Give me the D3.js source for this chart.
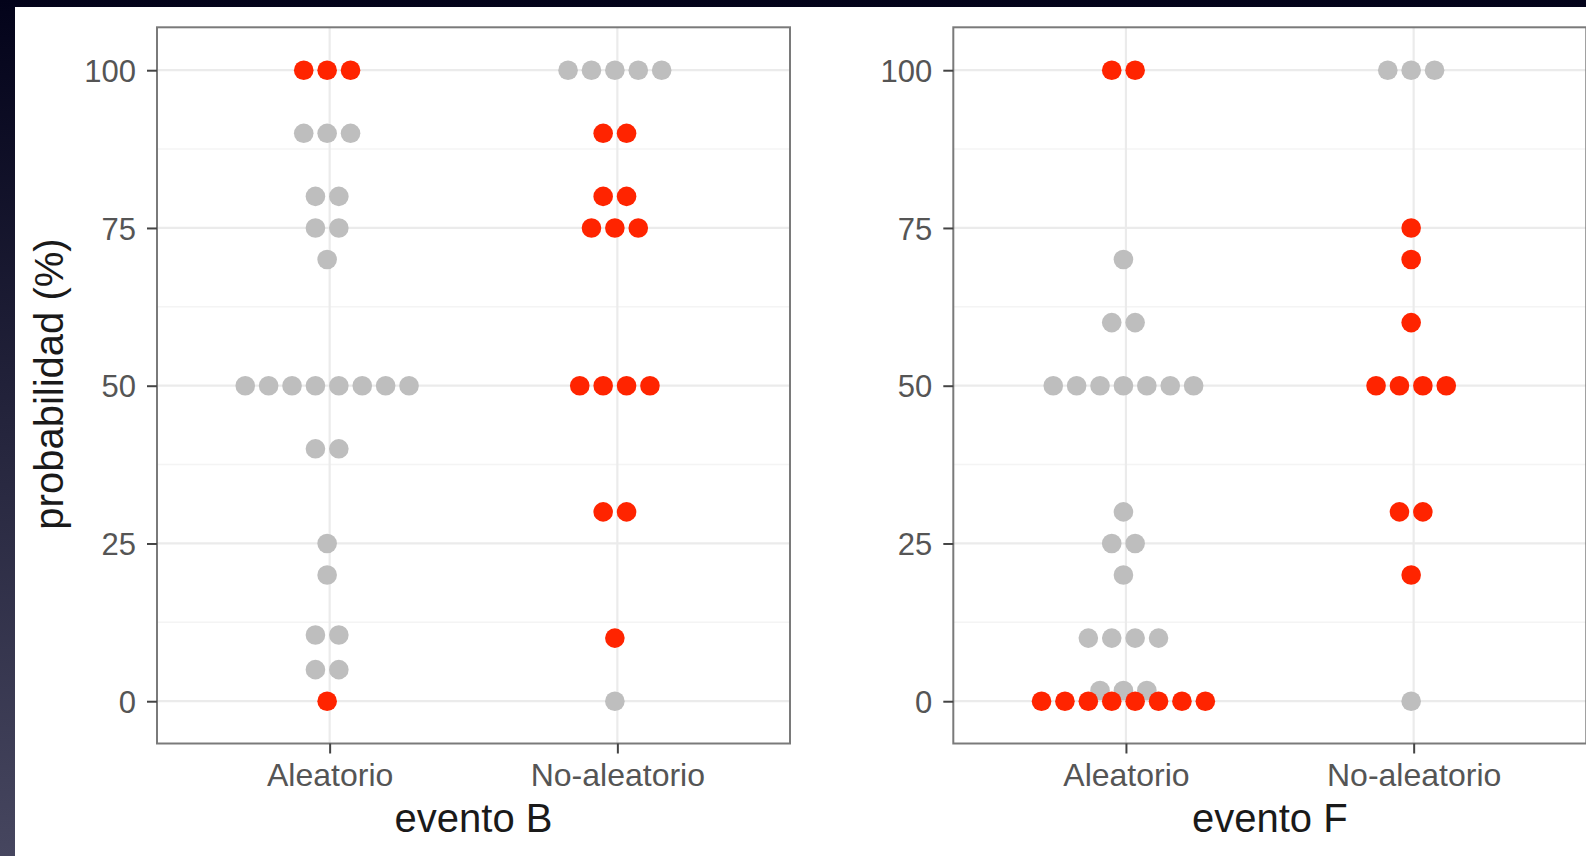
<!DOCTYPE html>
<html lang="es">
<head>
<meta charset="UTF-8">
<title>probabilidad por evento</title>
<script src="https://cdn.jsdelivr.net/npm/d3@7"></script>
<style>
  html, body { margin: 0; padding: 0; background: #05051a; }
  svg { display: block; font-family: "Liberation Sans", Arial, sans-serif; }
</style>
</head>
<body>
<svg id="chart"></svg>
<script>
const categories = ["Aleatorio", "No-aleatorio"];
const yTicks = [0, 25, 50, 75, 100];
const yMinorTicks = [12.5, 37.5, 62.5, 87.5];

// each stack: [categoria, valor, cantidad de puntos, grupo]
const eventoB = [
  ["Aleatorio", 100, 3, "rojo"],
  ["Aleatorio", 90, 3, "gris"],
  ["Aleatorio", 80, 2, "gris"],
  ["Aleatorio", 75, 2, "gris"],
  ["Aleatorio", 70, 1, "gris"],
  ["Aleatorio", 50, 8, "gris"],
  ["Aleatorio", 40, 2, "gris"],
  ["Aleatorio", 25, 1, "gris"],
  ["Aleatorio", 20, 1, "gris"],
  ["Aleatorio", 10.5, 2, "gris"],
  ["Aleatorio", 5, 2, "gris"],
  ["Aleatorio", 0, 1, "rojo"],
  ["No-aleatorio", 100, 5, "gris"],
  ["No-aleatorio", 90, 2, "rojo"],
  ["No-aleatorio", 80, 2, "rojo"],
  ["No-aleatorio", 75, 3, "rojo"],
  ["No-aleatorio", 50, 4, "rojo"],
  ["No-aleatorio", 30, 2, "rojo"],
  ["No-aleatorio", 10, 1, "rojo"],
  ["No-aleatorio", 0, 1, "gris"]
];

const eventoF = [
  ["Aleatorio", 100, 2, "rojo"],
  ["Aleatorio", 70, 1, "gris"],
  ["Aleatorio", 60, 2, "gris"],
  ["Aleatorio", 50, 7, "gris"],
  ["Aleatorio", 30, 1, "gris"],
  ["Aleatorio", 25, 2, "gris"],
  ["Aleatorio", 20, 1, "gris"],
  ["Aleatorio", 10, 4, "gris"],
  ["Aleatorio", 1.7, 3, "gris"],
  ["Aleatorio", 0, 8, "rojo"],
  ["No-aleatorio", 100, 3, "gris"],
  ["No-aleatorio", 75, 1, "rojo"],
  ["No-aleatorio", 70, 1, "rojo"],
  ["No-aleatorio", 60, 1, "rojo"],
  ["No-aleatorio", 50, 4, "rojo"],
  ["No-aleatorio", 30, 2, "rojo"],
  ["No-aleatorio", 20, 1, "rojo"],
  ["No-aleatorio", 0, 1, "gris"]
];

const colors = { rojo: "#ff2400", gris: "#bebebe" };

const W = 1586, H = 856;
const svg = d3.select("#chart").attr("width", W).attr("height", H);

// dark slide background + white plot area
const grad = svg.append("defs").append("linearGradient")
  .attr("id", "bg").attr("x1", 0).attr("y1", 0).attr("x2", 0).attr("y2", 1);
grad.append("stop").attr("offset", "0%").attr("stop-color", "#03031a");
grad.append("stop").attr("offset", "100%").attr("stop-color", "#46465f");
svg.append("rect").attr("width", W).attr("height", H).attr("fill", "url(#bg)");
svg.append("rect").attr("x", 15).attr("y", 7).attr("width", W - 15).attr("height", H - 7).attr("fill", "#fff");

const panels = [
  { title: "evento B", x0: 157, x1: 790, data: eventoB },
  { title: "evento F", x0: 953.3, x1: 1586.3, data: eventoF }
];

const panelTop = 27.3, panelBottom = 743.5;
const r = 9.8, step = 23.4, dotShift = -2.5;

const y = d3.scaleLinear().domain([-6.7, 106.8]).range([panelBottom, panelTop]);

panels.forEach(p => {
  const x = d3.scalePoint().domain(categories).range([p.x0, p.x1]).padding(0.6);
  const g = svg.append("g");

  // grid
  g.selectAll(".minor").data(yMinorTicks).join("line")
    .attr("x1", p.x0).attr("x2", p.x1)
    .attr("y1", d => y(d)).attr("y2", d => y(d))
    .attr("stroke", "#f4f4f4").attr("stroke-width", 1.5);
  g.selectAll(".major").data(yTicks).join("line")
    .attr("x1", p.x0).attr("x2", p.x1)
    .attr("y1", d => y(d)).attr("y2", d => y(d))
    .attr("stroke", "#ebebeb").attr("stroke-width", 2.2);
  g.selectAll(".vmajor").data(categories).join("line")
    .attr("x1", d => x(d)).attr("x2", d => x(d))
    .attr("y1", panelTop).attr("y2", panelBottom)
    .attr("stroke", "#ebebeb").attr("stroke-width", 2.2);

  // dots: grey first so red sits on top
  const dots = [];
  const ordered = p.data.filter(d => d[3] === "gris").concat(p.data.filter(d => d[3] === "rojo"));
  ordered.forEach(([cat, val, n, grp]) => {
    for (let i = 0; i < n; i++) {
      dots.push({ cx: x(cat) + dotShift + (i - (n - 1) / 2) * step, cy: y(val), fill: colors[grp] });
    }
  });
  g.selectAll("circle").data(dots).join("circle")
    .attr("cx", d => d.cx).attr("cy", d => d.cy).attr("r", r)
    .attr("fill", d => d.fill);

  // border
  g.append("rect")
    .attr("x", p.x0).attr("y", panelTop)
    .attr("width", p.x1 - p.x0).attr("height", panelBottom - panelTop)
    .attr("fill", "none").attr("stroke", "#7a7a7a").attr("stroke-width", 2);

  // axes
  const ay = g.append("g").attr("transform", `translate(${p.x0},0)`)
    .call(d3.axisLeft(y).tickValues(yTicks).tickSize(10).tickPadding(11));
  ay.select(".domain").remove();
  ay.selectAll("line").attr("stroke", "#444").attr("stroke-width", 2);
  ay.selectAll("text").attr("fill", "#555").attr("font-size", 31).attr("dy", "0.36em")
    .style("font-family", "'Liberation Sans', Arial, sans-serif");

  const ax = g.append("g").attr("transform", `translate(0,${panelBottom})`)
    .call(d3.axisBottom(x).tickSize(10).tickPadding(10));
  ax.select(".domain").remove();
  ax.selectAll("line").attr("stroke", "#444").attr("stroke-width", 2);
  ax.selectAll("text").attr("fill", "#555").attr("font-size", 32)
    .style("font-family", "'Liberation Sans', Arial, sans-serif");

  g.append("text")
    .attr("x", (p.x0 + p.x1) / 2).attr("y", 832)
    .attr("text-anchor", "middle").attr("font-size", 40).attr("fill", "#1a1a1a")
    .text(p.title);
});

svg.append("text")
  .attr("transform", "translate(63,384) rotate(-90)")
  .attr("text-anchor", "middle").attr("font-size", 40).attr("fill", "#1a1a1a")
  .text("probabilidad (%)");
</script>
</body>
</html>
